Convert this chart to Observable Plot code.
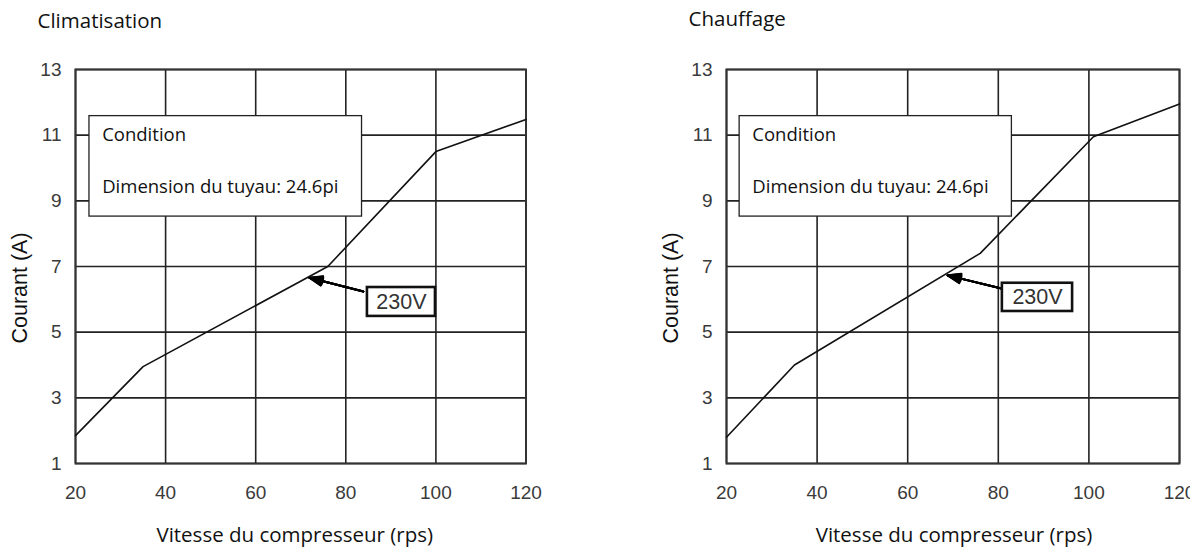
<!DOCTYPE html>
<html>
<head>
<meta charset="utf-8">
<script src="https://cdn.jsdelivr.net/npm/d3@7"></script>
<script src="https://cdn.jsdelivr.net/npm/@observablehq/plot@0.6"></script>
<style>
  html, body { margin: 0; padding: 0; background: white; }
  #wrap { position: relative; width: 1203px; height: 550px; overflow: hidden; background: white; }
  #left, #right { position: absolute; top: 0; }
  #left { left: 0; }
  #right { left: 600px; }
</style>
</head>
<body>
<div id="wrap"><div id="left"></div><div id="right"></div></div>
<script>
// ---- data ----
const climX = [20, 35, 76, 100, 120];
const climY = [1.85, 3.95, 7.0, 10.5, 11.48];
const chauX = [20, 35, 76, 101, 120];
const chauY = [1.8, 4.0, 7.4, 10.95, 11.95];
const xTicks = [20, 40, 60, 80, 100, 120];
const yTicks = [1, 3, 5, 7, 9, 11, 13];
const titles = ["Climatisation", "Chauffage"];
const xLabel = "Vitesse du compresseur (rps)";
const yLabel = "Courant (A)";
const conditionLines = ["Condition", "Dimension du tuyau: 24.6pi"];
const voltageLabel = "230V";

// annotation anchors in data units (rps, A)
const climNotes = {
  cond: {x1: 23.1, x2: 83.6, y1: 8.52, y2: 11.58, ty: [11.01, 9.42]},
  volt: {x1: 84.8, x2: 99.9, y1: 5.48, y2: 6.36},
  arrow: {x1: 83.9, y1: 6.24, x2: 71.9, y2: 6.66}
};
const chauNotes = {
  cond: {x1: 22.9, x2: 83.0, y1: 8.52, y2: 11.58, ty: [11.01, 9.42]},
  volt: {x1: 80.9, x2: 96.4, y1: 5.63, y2: 6.49},
  arrow: {x1: 80.7, y1: 6.33, x2: 68.8, y2: 6.73}
};

const sans = "'Open Sans', 'Noto Sans', sans-serif";
const arial = "'Liberation Sans', Arial, sans-serif";

function chart({title, xs, ys, notes, width, marginLeft, marginRight, titleDy, xLabelDx}) {
  const pts = xs.map((x, i) => ({x, y: ys[i]}));
  const condTexts = conditionLines.map((t, i) => ({t, x: notes.cond.x1, y: notes.cond.ty[i]}));
  const a = notes.arrow;
  const fillArrows = [40, 30, 20, 10].map(ang =>
    Plot.arrow([a], {x1: "x1", y1: "y1", x2: "x2", y2: "y2", stroke: "black",
      strokeWidth: 2, headLength: 10.5, headAngle: ang}));
  return Plot.plot({
    width, height: 550,
    marginTop: 69, marginBottom: 87, marginLeft, marginRight,
    style: {fontFamily: arial, fontSize: "19px", color: "#3a3a3a", background: "white", overflow: "hidden"},
    x: {domain: [20, 120], ticks: xTicks, tickSize: 0, tickPadding: 22, label: null},
    y: {domain: [1, 13], ticks: yTicks, tickSize: 0, tickPadding: 14, label: null},
    marks: [
      Plot.ruleX(xTicks, {stroke: "#222", strokeWidth: 1.6}),
      Plot.ruleY(yTicks, {stroke: "#222", strokeWidth: 1.6}),
      Plot.frame({stroke: "#333", strokeWidth: 2}),
      Plot.rect([notes.cond], {x1: "x1", x2: "x2", y1: "y1", y2: "y2", fill: "white", stroke: "#222", strokeWidth: 1.3}),
      Plot.text(condTexts, {x: "x", y: "y", text: "t", textAnchor: "start", dx: 12.7,
        fontFamily: sans, fontSize: 18.5, fill: "#111"}),
      Plot.line(pts, {x: "x", y: "y", stroke: "#111", strokeWidth: 1.6}),
      Plot.arrow([a], {x1: "x1", y1: "y1", x2: "x2", y2: "y2", stroke: "black", strokeWidth: 1.5, headLength: 14, headAngle: 40}),
      ...fillArrows,
      Plot.rect([notes.volt], {x1: "x1", x2: "x2", y1: "y1", y2: "y2", fill: "white", stroke: "#111", strokeWidth: 2.6}),
      Plot.text([voltageLabel], {x: (notes.volt.x1 + notes.volt.x2) / 2, y: (notes.volt.y1 + notes.volt.y2) / 2,
        text: d => d, fontFamily: arial, fontSize: 21.5, fill: "#333"}),
      Plot.text([title], {frameAnchor: "top-left", text: d => d, textAnchor: "start", dx: -38, dy: titleDy,
        fontFamily: sans, fontSize: 20.5, fill: "#111"}),
      Plot.text([yLabel], {frameAnchor: "left", text: d => d, rotate: -90, dx: -55, dy: 77,
        fontFamily: arial, fontSize: 21.5, fill: "#111"}),
      Plot.text([xLabel], {frameAnchor: "bottom", text: d => d, dx: xLabelDx, dy: 78,
        fontFamily: sans, fontSize: 20.5, fill: "#111"})
    ]
  });
}

document.getElementById("left").appendChild(chart({
  title: titles[0], xs: climX, ys: climY, notes: climNotes,
  width: 600, marginLeft: 75, marginRight: 74.5, titleDy: -56, xLabelDx: -6
}));
document.getElementById("right").appendChild(chart({
  title: titles[1], xs: chauX, ys: chauY, notes: chauNotes,
  width: 590, marginLeft: 126, marginRight: 11, titleDy: -58, xLabelDx: 1
}));
</script>
</body>
</html>
